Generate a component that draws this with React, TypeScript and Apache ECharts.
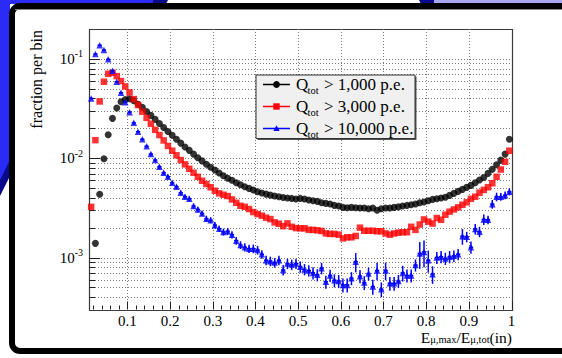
import React, { useEffect, useRef } from "react";
import * as echarts from "echarts";

// Histogram binning: 99 bins of width 0.01 from 0.01 to 1.00
const BIN_LO = 0.01;
const BIN_W = 0.01;
const NBINS = 99;
const binCenters: number[] = Array.from({ length: NBINS }, (_, k) => +(BIN_LO + BIN_W * (k + 0.5)).toFixed(3));

// Q_tot > 1,000 p.e. (black circles)
const blackVals: (number | null)[] = [
  null, 0.00139, 0.00433, 0.0099, 0.0172, 0.0252, 0.032, 0.037, 0.039, 0.0397,
  0.038, 0.035, 0.0325, 0.0296, 0.027, 0.0246, 0.0224, 0.0204, 0.0186, 0.017,
  0.0155, 0.0142, 0.013, 0.012, 0.011, 0.0101, 0.0094, 0.0087, 0.0081, 0.0076,
  0.0071, 0.00666, 0.0063, 0.006, 0.00566, 0.0054, 0.00516, 0.00497, 0.00478, 0.00459,
  0.00446, 0.00435, 0.00425, 0.00416, 0.0041, 0.00403, 0.00397, 0.00394, 0.00388, 0.00394,
  0.00388, 0.00379, 0.00373, 0.00368, 0.00356, 0.00351, 0.00346, 0.00335, 0.0033, 0.0032,
  0.00317, 0.0032, 0.00317, 0.00315, 0.00315, 0.0031, 0.00315, 0.003, 0.0031, 0.00315,
  0.00315, 0.0032, 0.00324, 0.0033, 0.00335, 0.0034, 0.00346, 0.00356, 0.00362, 0.00373,
  0.00385, 0.00391, 0.00397, 0.00404, 0.00423, 0.00443, 0.00464, 0.00486, 0.00509, 0.00533,
  0.00566, 0.00603, 0.00641, 0.00704, 0.00773, 0.00859, 0.00957, 0.011, 0.0155,
];

// Q_tot > 3,000 p.e. (red squares)
const redVals: number[] = [
  0.00324, 0.0152, 0.0373, 0.0589, 0.0708, 0.0725, 0.0671, 0.0598, 0.0528, 0.046,
  0.0394, 0.0343, 0.0294, 0.0255, 0.0222, 0.0193, 0.0171, 0.0151, 0.0133, 0.0119,
  0.0107, 0.00958, 0.00867, 0.00783, 0.00714, 0.0065, 0.00593, 0.0055, 0.0051, 0.0047,
  0.00443, 0.00429, 0.00416, 0.00385, 0.00356, 0.00332, 0.00324, 0.00308, 0.00287, 0.00274,
  0.00264, 0.00252, 0.00244, 0.00226, 0.00219, 0.00207, 0.00221, 0.00204, 0.00198, 0.00197,
  0.00197, 0.0019, 0.0019, 0.00188, 0.00185, 0.00175, 0.00173, 0.00173, 0.0017, 0.00156,
  0.0016, 0.0016, 0.00165, 0.002, 0.00186, 0.00186, 0.00186, 0.00184, 0.00184, 0.00175,
  0.0017, 0.00175, 0.00178, 0.0018, 0.0018, 0.00204, 0.0019, 0.00215, 0.00242, 0.0023,
  0.0022, 0.0025, 0.0024, 0.0027, 0.0029, 0.00305, 0.0032, 0.0034, 0.0036, 0.0039,
  0.0041, 0.0045, 0.0048, 0.0051, 0.0056, 0.0065, 0.0077, 0.0092, 0.0119,
];

// Q_tot > 10,000 p.e. (blue triangles)
const blueVals: number[] = [
  0.04, 0.112, 0.137, 0.123, 0.099, 0.0759, 0.0588, 0.0456, 0.0367, 0.0291,
  0.0227, 0.0185, 0.0155, 0.0132, 0.011, 0.00958, 0.0082, 0.00714, 0.0065, 0.00566,
  0.00516, 0.00449, 0.0041, 0.0039, 0.0033, 0.00305, 0.00278, 0.00246, 0.00238, 0.00212,
  0.00195, 0.00181, 0.00184, 0.0017, 0.00148, 0.00134, 0.00127, 0.00123, 0.00123, 0.00119,
  0.00108, 0.00094, 0.00092, 0.00089, 0.00094, 0.00075, 0.00087, 0.00085, 0.00087, 0.00081,
  0.00076, 0.00074, 0.0007, 0.00067, 0.00078, 0.00057, 0.00066, 0.00059, 0.00058, 0.00053,
  0.00053, 0.00062, 0.00091, 0.00065, 0.00056, 0.00069, 0.00051, 0.00074, 0.00048, 0.00074,
  0.00055, 0.00055, 0.00058, 0.0007, 0.00066, 0.00066, 0.00084, 0.0011, 0.00114, 0.00094,
  0.00068, 0.001, 0.00102, 0.00098, 0.00102, 0.00104, 0.00108, 0.00164, 0.00162, 0.00127,
  0.00194, 0.00182, 0.00242, 0.0024, 0.00345, 0.00409, 0.00409, 0.00425, 0.00459,
];

// relative statistical error of the blue histogram
const blueErr: number[] = [
  0.02, 0.015, 0.015, 0.015, 0.02, 0.02, 0.02, 0.025, 0.025, 0.03,
  0.03, 0.03, 0.035, 0.035, 0.04, 0.04, 0.045, 0.045, 0.05, 0.05,
  0.05, 0.055, 0.055, 0.06, 0.06, 0.065, 0.065, 0.07, 0.07, 0.075,
  0.075, 0.08, 0.08, 0.085, 0.09, 0.09, 0.095, 0.095, 0.1, 0.1,
  0.1, 0.11, 0.11, 0.11, 0.11, 0.12, 0.12, 0.12, 0.12, 0.13,
  0.13, 0.13, 0.14, 0.14, 0.13, 0.15, 0.14, 0.15, 0.15, 0.16,
  0.16, 0.15, 0.22, 0.15, 0.16, 0.15, 0.17, 0.2, 0.17, 0.2,
  0.16, 0.16, 0.15, 0.18, 0.15, 0.15, 0.14, 0.3, 0.3, 0.25,
  0.2, 0.14, 0.14, 0.14, 0.14, 0.13, 0.13, 0.18, 0.12, 0.14,
  0.12, 0.12, 0.12, 0.1, 0.1, 0.1, 0.09, 0.09, 0.08,
];

const seriesNames = ["> 1,000 p.e.", "> 3,000 p.e.", "> 10,000 p.e."];
const xTickLabels = [0.1, 0.2, 0.3, 0.4, 0.5, 0.6, 0.7, 0.8, 0.9, 1];
const X_MIN = 0.01, X_MAX = 1;
const Y_MIN = 3e-4, Y_MAX = 0.2;

const SERIF = "Liberation Serif";
const COLORS = ["#000000", "#ff0000", "#0000ff"];

type Decor = { axis: "x" | "y"; v: number; len: number; grid: boolean };

function buildDecor(): Decor[] {
  const d: Decor[] = [];
  for (let e = -4; e <= -1; e++) {
    for (let m = 1; m <= 9; m++) {
      const v = +(m * Math.pow(10, e)).toPrecision(3);
      if (v <= Y_MIN * 1.0001 || v >= Y_MAX * 0.9999) continue;
      d.push({ axis: "y", v, len: m === 1 ? 11 : 6, grid: true });
    }
  }
  for (let i = 1; i <= 50; i++) {
    const v = +(i * 0.02).toFixed(2);
    if (v < X_MIN) continue;
    const major = i % 5 === 0;
    d.push({ axis: "x", v, len: major ? 8 : 4, grid: major && v < 0.999 });
  }
  return d;
}

export default function App() {
  const ref = useRef<HTMLDivElement>(null);
  useEffect(() => {
    if (!ref.current) return;
    const chart = echarts.init(ref.current, undefined, { renderer: "svg" });
    const decor = buildDecor();
    const pts = (vals: (number | null)[]) =>
      vals.map((v, i) => (v == null ? null : [binCenters[i], v])).filter((p) => p !== null);

    const legendRows = [84.5, 106.5, 128.5];
    const legendChildren: any[] = [
      { type: "rect", shape: { x: 257.5, y: 76.5, width: 159, height: 63.5 }, style: { fill: "#555" }, z: 99 },
      { type: "rect", shape: { x: 256, y: 75, width: 159, height: 63.5 }, style: { fill: "#f0f0f0", stroke: "#333", lineWidth: 1 }, z: 100 },
    ];
    legendRows.forEach((ry, i) => {
      const c = COLORS[i];
      legendChildren.push({ type: "line", shape: { x1: 263, y1: ry, x2: 290, y2: ry }, style: { stroke: c, lineWidth: 1.5 }, z: 101 });
      if (i === 0) legendChildren.push({ type: "circle", shape: { cx: 276.5, cy: ry, r: 3.4 }, style: { fill: c }, z: 102 });
      if (i === 1) legendChildren.push({ type: "rect", shape: { x: 273.3, y: ry - 3.2, width: 6.4, height: 6.4 }, style: { fill: c }, z: 102 });
      if (i === 2) legendChildren.push({ type: "polygon", shape: { points: [[276.5, ry - 3.2], [279.6, ry + 2.4], [273.4, ry + 2.4]] }, style: { fill: c }, z: 102 });
      legendChildren.push({ type: "text", x: 296, y: ry, style: { text: "Q", font: `17px '${SERIF}'`, fill: "#000", verticalAlign: "middle" }, z: 102 });
      legendChildren.push({ type: "text", x: 307.5, y: ry + 6, style: { text: "tot", font: `10.5px '${SERIF}'`, fill: "#000", verticalAlign: "middle" }, z: 102 });
      legendChildren.push({ type: "text", x: 324, y: ry, style: { text: seriesNames[i], font: `17px '${SERIF}'`, fill: "#000", verticalAlign: "middle" }, z: 102 });
    });

    const option: any = {
      animation: false,
      backgroundColor: "#ffffff",
      grid: { left: 89, top: 29, width: 422.5, height: 280.5, containLabel: false },
      xAxis: {
        type: "value",
        min: X_MIN,
        max: X_MAX,
        axisLine: { show: false },
        axisTick: { show: false },
        splitLine: { show: false },
        axisLabel: {
          customValues: xTickLabels,
          formatter: (v: number) => String(+v.toFixed(2)),
          fontFamily: SERIF,
          fontSize: 15,
          lineHeight: 15,
          color: "#000",
          margin: 4,
        },
      },
      yAxis: {
        type: "log",
        logBase: 10,
        min: Y_MIN,
        max: Y_MAX,
        axisLine: { show: false },
        axisTick: { show: false },
        splitLine: { show: false },
        axisLabel: {
          margin: 6,
          formatter: (v: number) => {
            const l = Math.log10(v);
            const r = Math.round(l);
            if (Math.abs(l - r) > 1e-6) return "";
            return `{b|10}{s|${r}}`;
          },
          rich: {
            b: { fontFamily: SERIF, fontSize: 15, color: "#000", lineHeight: 20 },
            s: { fontFamily: SERIF, fontSize: 10, color: "#000", lineHeight: 12, verticalAlign: "top" },
          },
        },
      },
      graphic: [
        { type: "polygon", shape: { points: [[0, 0], [153, 0], [153, 4], [10, 4], [10, 165], [0, 182]] }, style: { fill: "#2b2bf8" }, z: -10 },
        { type: "polygon", shape: { points: [[10, 160], [10, 176], [0, 196], [0, 180]] }, style: { fill: "#0a0a8c" }, z: -10 },
        { type: "polygon", shape: { points: [[153, 0], [168, 0], [166, 4], [153, 4]] }, style: { fill: "#0a0a8c" }, z: -10 },
        { type: "polygon", shape: { points: [[419, 0], [434, 0], [434, 4], [421, 4]] }, style: { fill: "#0a0a8c" }, z: -10 },
        { type: "rect", shape: { x: 434, y: 0, width: 130, height: 4 }, style: { fill: "#a8a8f0" }, z: -10 },
        { type: "rect", shape: { x: 12, y: 6, width: 600, height: 345, r: 8 }, style: { fill: "#ffffff", stroke: "#000000", lineWidth: 6 }, z: -5 },
        { type: "line", shape: { x1: 15, y1: 9.5, x2: 562, y2: 9.5 }, style: { stroke: "#888", lineWidth: 1 }, z: -4 },
        {
          type: "text", x: 36, y: 30, rotation: Math.PI / 2,
          style: { text: "fraction per bin", font: `16px '${SERIF}'`, fill: "#000", align: "right", verticalAlign: "middle" },
        },
        {
          type: "text", x: 512, y: 337,
          style: {
            text: "{b|E}{s|μ,max}{b|/E}{s|μ,tot}{b|(in)}",
            align: "right", verticalAlign: "middle",
            rich: {
              b: { fontFamily: SERIF, fontSize: 15.5, fill: "#000", lineHeight: 16 },
              s: { fontFamily: SERIF, fontSize: 10.5, fill: "#000", lineHeight: 7, verticalAlign: "bottom" },
            },
          },
        },
        { type: "group", children: legendChildren, z: 100 },
      ],
      series: [
        {
          type: "custom",
          name: "decor",
          coordinateSystem: "cartesian2d",
          z: 1,
          silent: true,
          data: decor.map(() => [0.5, 0.01]),
          renderItem: (params: any, api: any) => {
            const d = decor[params.dataIndex];
            const cs = params.coordSys;
            const children: any[] = [];
            if (params.dataIndex === 0) {
              children.push({
                type: "rect",
                shape: { x: Math.round(cs.x) + 0.5, y: Math.round(cs.y) + 0.5, width: Math.round(cs.width), height: Math.round(cs.height) },
                style: { fill: "none", stroke: "#3a3a3a", lineWidth: 1.2 },
              });
            }
            if (d.axis === "y") {
              const y = Math.round(api.coord([0.5, d.v])[1]) + 0.5;
              if (d.grid) children.push({ type: "line", shape: { x1: cs.x, y1: y, x2: cs.x + cs.width, y2: y }, style: { stroke: "#7a7a7a", lineWidth: 1, lineDash: [1, 2] } });
              children.push({ type: "line", shape: { x1: cs.x, y1: y, x2: cs.x + d.len, y2: y }, style: { stroke: "#222", lineWidth: 1 } });
            } else {
              const x = Math.round(api.coord([d.v, 0.01])[0]) + 0.5;
              const yb = cs.y + cs.height;
              if (d.grid) children.push({ type: "line", shape: { x1: x, y1: cs.y, x2: x, y2: yb }, style: { stroke: "#7a7a7a", lineWidth: 1, lineDash: [1, 2] } });
              children.push({ type: "line", shape: { x1: x, y1: yb, x2: x, y2: yb - d.len }, style: { stroke: "#222", lineWidth: 1 } });
            }
            return { type: "group", children };
          },
        },
        {
          type: "scatter", name: "black", data: pts(blackVals), symbol: "circle", symbolSize: 7,
          itemStyle: { color: COLORS[0] }, z: 3,
        },
        {
          type: "scatter", name: "red", data: pts(redVals), symbol: "rect", symbolSize: 6.5,
          itemStyle: { color: COLORS[1] }, z: 4,
        },
        {
          type: "custom", name: "blueErr", coordinateSystem: "cartesian2d", z: 5,
          data: blueVals.map((v, i) => [binCenters[i], v, blueErr[i]]),
          encode: { x: 0, y: 1 },
          renderItem: (params: any, api: any) => {
            const x = api.value(0), v = api.value(1), e = api.value(2);
            const top = api.coord([x, v * (1 + e)]);
            const bot = api.coord([x, Math.max(v * (1 - e), 1e-6)]);
            const l = api.coord([x - BIN_W / 2, v]);
            const r = api.coord([x + BIN_W / 2, v]);
            return {
              type: "group",
              children: [
                { type: "line", shape: { x1: top[0], y1: top[1], x2: bot[0], y2: bot[1] }, style: { stroke: COLORS[2], lineWidth: 1.5 } },
                { type: "line", shape: { x1: l[0], y1: l[1], x2: r[0], y2: r[1] }, style: { stroke: COLORS[2], lineWidth: 1.5 } },
              ],
            };
          },
        },
        {
          type: "scatter", name: "blue", data: pts(blueVals), symbol: "triangle", symbolSize: 6.5,
          itemStyle: { color: COLORS[2] }, z: 6,
        },
      ],
    };
    chart.setOption(option);
    return () => chart.dispose();
  }, []);
  return <div ref={ref} style={{ position: "absolute", left: 0, top: 0, width: 562, height: 358 }} />;
}
